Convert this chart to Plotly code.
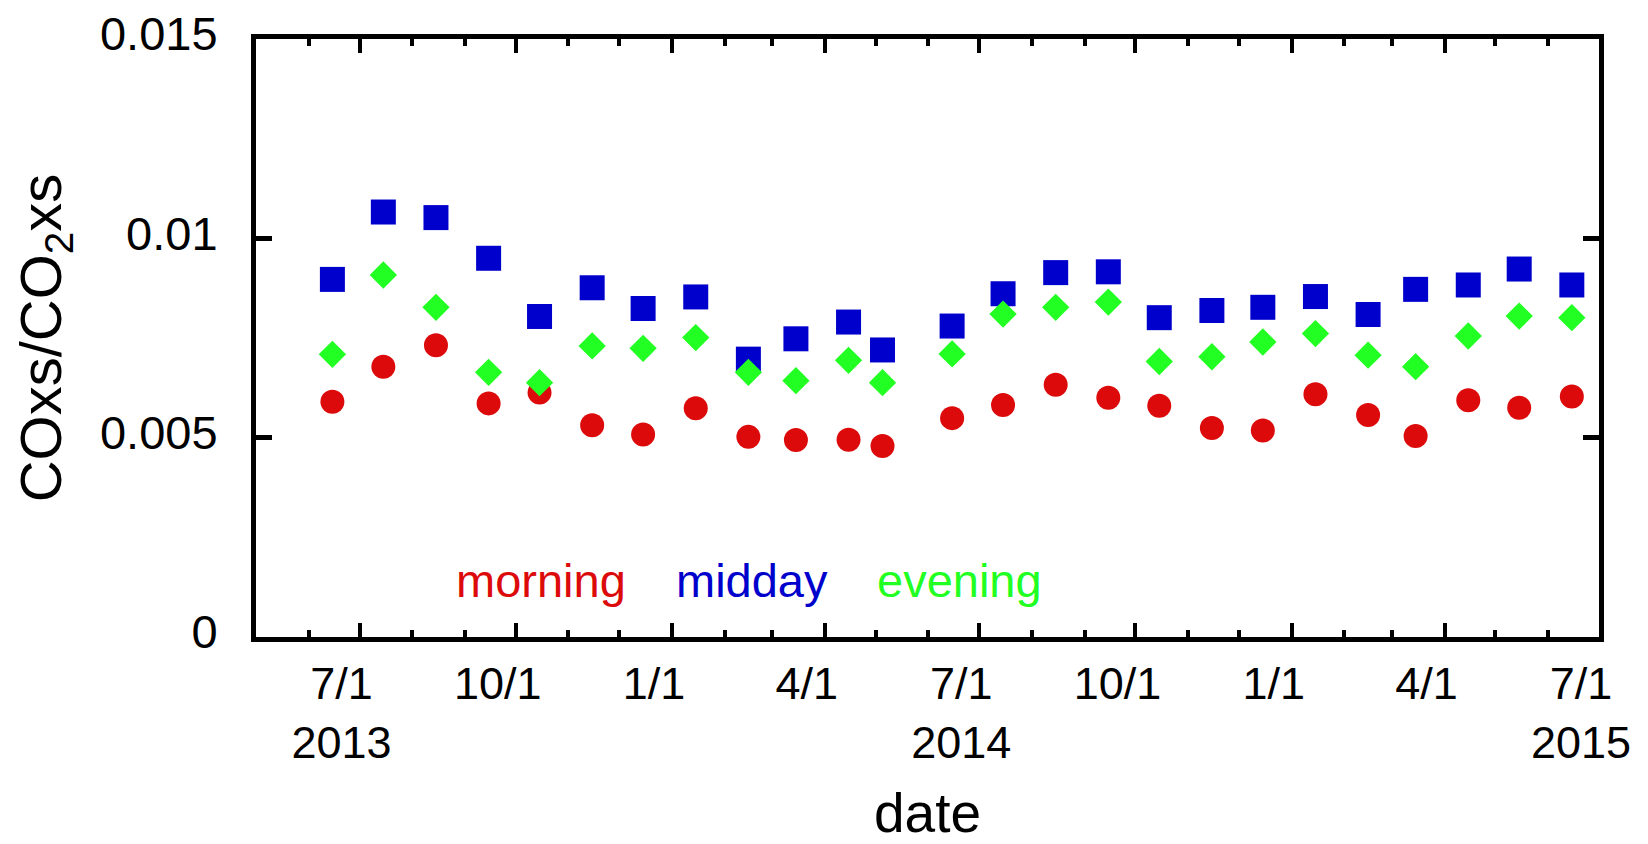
import plotly.graph_objects as go

dates = ["2013-06-15", "2013-07-15", "2013-08-15", "2013-09-15", "2013-10-15",
         "2013-11-15", "2013-12-15", "2014-01-15", "2014-02-15", "2014-03-15",
         "2014-04-15", "2014-05-05", "2014-06-15", "2014-07-15", "2014-08-15",
         "2014-09-15", "2014-10-15", "2014-11-15", "2014-12-15", "2015-01-15",
         "2015-02-15", "2015-03-15", "2015-04-15", "2015-05-15", "2015-06-15"]

morning = [0.00590, 0.00678, 0.00732, 0.00586, 0.00613, 0.00531, 0.00508, 0.00574,
           0.00502, 0.00494, 0.00495, 0.00479, 0.00549, 0.00582, 0.00633, 0.00600,
           0.00580, 0.00524, 0.00518, 0.00609, 0.00557, 0.00504, 0.00594, 0.00575,
           0.00603]
midday = [0.00897, 0.01066, 0.01052, 0.00950, 0.00804, 0.00876, 0.00824, 0.00853,
          0.00697, 0.00748, 0.00790, 0.00720, 0.00780, 0.00861, 0.00914, 0.00916,
          0.00801, 0.00819, 0.00827, 0.00854, 0.00809, 0.00872, 0.00883, 0.00923,
          0.00883]
evening = [0.00709, 0.00908, 0.00827, 0.00664, 0.00638, 0.00730, 0.00724, 0.00751,
           0.00664, 0.00643, 0.00694, 0.00638, 0.00710, 0.00810, 0.00827, 0.00840,
           0.00691, 0.00703, 0.00740, 0.00761, 0.00707, 0.00678, 0.00755, 0.00805,
           0.00801]

x_tickvals = ["2013-07-01", "2013-10-01", "2014-01-01", "2014-04-01", "2014-07-01",
              "2014-10-01", "2015-01-01", "2015-04-01", "2015-07-01"]
x_ticktext = ["7/1<br>2013", "10/1", "1/1", "4/1", "7/1<br>2014",
              "10/1", "1/1", "4/1", "7/1<br>2015"]
y_tickvals = [0, 0.005, 0.01, 0.015]
y_ticktext = ["0", "0.005", "0.01", "0.015"]

RED = "#DC0A0A"
BLUE = "#0000CC"
GREEN = "#22FF22"
FONT = "Liberation Sans, Arial, sans-serif"

fig = go.Figure()
fig.add_trace(go.Scatter(x=dates, y=morning, mode="markers", name="morning",
                         marker=dict(symbol="circle", size=24, color=RED, line=dict(width=0))))
fig.add_trace(go.Scatter(x=dates, y=midday, mode="markers", name="midday",
                         marker=dict(symbol="square", size=25, color=BLUE, line=dict(width=0))))
fig.add_trace(go.Scatter(x=dates, y=evening, mode="markers", name="evening",
                         marker=dict(symbol="diamond", size=21, color=GREEN, line=dict(width=0))))

for txt, col, px in [("morning", RED, 0.1474), ("midday", BLUE, 0.3110), ("evening", GREEN, 0.4612)]:
    fig.add_annotation(text=txt, x=px, y=0.094, xref="paper", yref="paper",
                       xanchor="left", yanchor="middle", showarrow=False,
                       font=dict(family=FONT, size=47, color=col))

fig.update_layout(
    width=1640, height=836,
    margin=dict(l=248, r=49, t=31, b=207),
    plot_bgcolor="white", paper_bgcolor="white",
    showlegend=False,
    font=dict(family=FONT, color="black"),
)

fig.update_xaxes(
    type="date", range=["2013-05-01", "2015-07-01"], automargin=False,
    tickmode="array", tickvals=x_tickvals, ticktext=x_ticktext,
    ticks="inside", ticklen=14, tickwidth=4, tickcolor="black",
    showline=True, linewidth=5, linecolor="black", mirror="ticks",
    showgrid=False, zeroline=False,
    tickfont=dict(family=FONT, size=45),
    ticklabelshift=-18, ticklabelstandoff=3, ticklabeloverflow="allow",
    minor=dict(dtick="M1", tick0="2013-05-01", ticks="inside", ticklen=7,
               tickwidth=4, tickcolor="black", showgrid=False),
    title=dict(text="date", font=dict(family=FONT, size=55), standoff=32),
)
fig.update_yaxes(
    range=[0, 0.015], automargin=False,
    tickmode="array", tickvals=y_tickvals, ticktext=y_ticktext,
    ticks="inside", ticklen=16, tickwidth=5, tickcolor="black",
    showline=True, linewidth=5, linecolor="black", mirror="ticks",
    showgrid=False, zeroline=False,
    tickfont=dict(family=FONT, size=47),
    ticklabelstandoff=24,
    ticklabelshift=-5, ticklabeloverflow="allow",
    title=dict(text="COxs/CO<sub>2</sub>xs", font=dict(family=FONT, size=58), standoff=35),
)

fig.write_html("out.html")
